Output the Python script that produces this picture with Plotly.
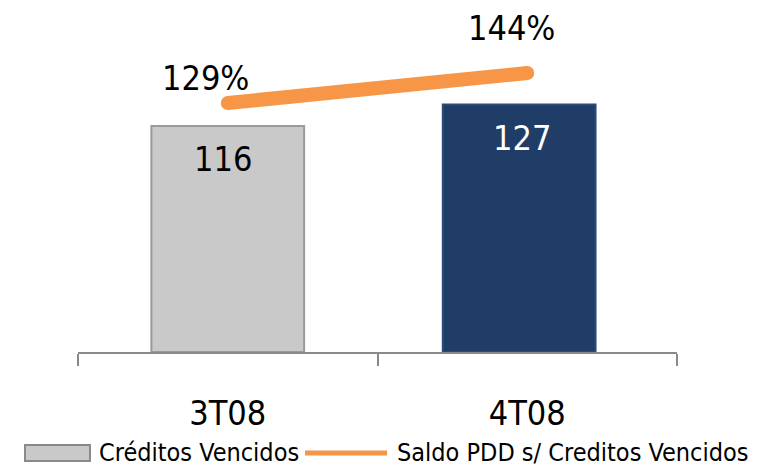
import plotly.graph_objects as go

categories = ["3T08", "4T08"]
creditos_vencidos = [116, 127]
saldo_pdd_pct = [129, 144]
series_names = ["Créditos Vencidos", "Saldo PDD s/ Creditos Vencidos"]
bar_colors = ["#C9C9C9", "#1F3D66"]
bar_line_colors = ["#9A9A9A", "#2B4C7A"]
bar_text_colors = ["black", "white"]
line_color = "#F79646"

FONT = "DejaVu Sans Condensed, Liberation Sans Narrow, Open Sans, sans-serif"

fig = go.Figure()
fig.add_trace(go.Bar(
    x=categories, y=creditos_vencidos, name=series_names[0],
    marker=dict(color=bar_colors, line=dict(color=bar_line_colors, width=2)),
    width=0.51, offset=[-0.255, -0.282],
    showlegend=False, hoverinfo="x+y",
))
fig.add_trace(go.Scatter(
    x=categories, y=saldo_pdd_pct, name=series_names[1],
    yaxis="y2", mode="lines",
    line=dict(color=line_color, width=14), showlegend=False,
))
fig.add_trace(go.Scatter(
    x=categories, y=saldo_pdd_pct, yaxis="y2", mode="markers",
    marker=dict(color=line_color, size=14), showlegend=False, hoverinfo="skip",
))

# Bar value labels
for i, (c, v) in enumerate(zip(categories, creditos_vencidos)):
    fig.add_annotation(x=c, y=v, xref="x", yref="y", text=str(v),
                       showarrow=False, xshift=[-5, -5][i], yshift=-33,
                       font=dict(size=34, color=bar_text_colors[i], family=FONT))

# Line value labels
for i, (c, v) in enumerate(zip(categories, saldo_pdd_pct)):
    fig.add_annotation(x=c, y=v, xref="x", yref="y2", text=f"{v}%",
                       showarrow=False, xshift=[-22, -16][i], yshift=[25, 45][i],
                       font=dict(size=34, color="black", family=FONT))

# Legend drawn below the axis (swatches + labels)
fig.add_shape(type="rect", xref="paper", yref="paper",
              x0=-0.0885, x1=0.02, y0=-0.3169, y1=-0.2703,
              fillcolor="#C9C9C9", line=dict(color="#8A8A8A", width=2))
fig.add_annotation(xref="paper", yref="paper", x=0.0317, y=-0.2936,
                   xanchor="left", yanchor="middle", showarrow=False,
                   text=series_names[0], font=dict(size=25, family=FONT, color="black"))
fig.add_shape(type="line", xref="paper", yref="paper",
              x0=0.379, x1=0.516, y0=-0.2936, y1=-0.2936,
              line=dict(color=line_color, width=5))
fig.add_annotation(xref="paper", yref="paper", x=0.529, y=-0.2936,
                   xanchor="left", yanchor="middle", showarrow=False,
                   text=series_names[1], font=dict(size=25, family=FONT, color="black"))

fig.update_layout(
    width=761, height=466,
    margin=dict(l=70, r=92, t=0, b=122, autoexpand=False),
    plot_bgcolor="white", paper_bgcolor="white",
    font=dict(family=FONT, color="black"),
    showlegend=False,
    xaxis=dict(showline=True, linecolor="#8A8A8A", linewidth=2,
               ticks="outside", tickson="boundaries", ticklen=12,
               tickcolor="#8A8A8A", tickwidth=2,
               tickfont=dict(size=34, family=FONT), ticklabelstandoff=30,
               showgrid=False, zeroline=False, automargin=False),
    yaxis=dict(range=[0, 176.6], visible=False, showgrid=False, zeroline=False),
    yaxis2=dict(range=[4.5, 176.5], overlaying="y", side="right",
                visible=False, showgrid=False, zeroline=False),
)

fig.write_html("out.html")
